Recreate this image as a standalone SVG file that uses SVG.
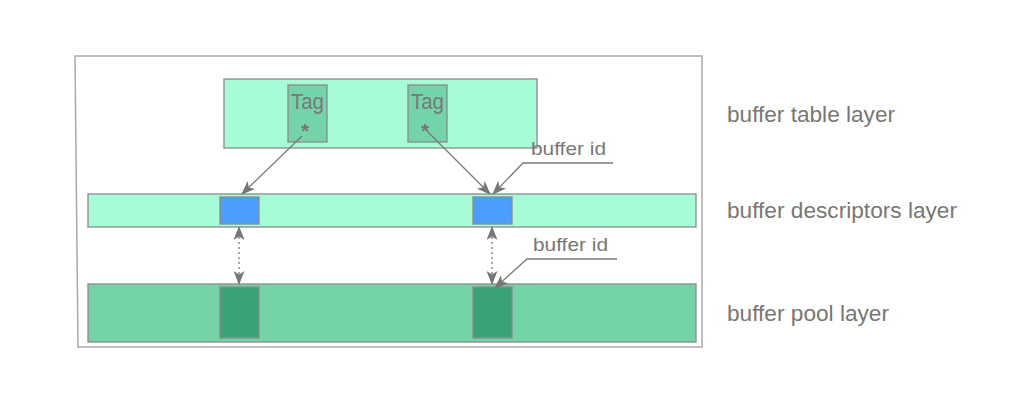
<svg xmlns="http://www.w3.org/2000/svg" width="1024" height="412" viewBox="0 0 1024 412">
<defs>
<style>
.lbl{font-family:"Liberation Sans",Arial,sans-serif;fill:#777}
.edge{stroke:#7a7a7a;stroke-width:1.3;fill:none}
.box{stroke:#8a8a8a;stroke-width:1.3}
</style>
<marker id="ah" viewBox="0 0 14 11" refX="13" refY="5.5" markerWidth="14" markerHeight="11" markerUnits="userSpaceOnUse" orient="auto-start-reverse">
<path d="M0,0 L14,5.5 L0,11 L3.5,5.5 Z" fill="#777"/>
</marker>
</defs>
<rect width="1024" height="412" fill="#fff"/>
<g id="frame">
<polygon points="75,56 702,56 702,347 78,347" fill="#fff" stroke="#aaa" stroke-width="1.5"/>
</g>
<g id="table-layer">
<rect class="box" x="224" y="79" width="313" height="69" fill="#a6fcd6"/>
</g>
<g id="tag1">
<rect class="box" x="288" y="85" width="39" height="57" fill="#74d3a8"/>
<text class="lbl" x="307.5" y="109" font-size="22" text-anchor="middle" textLength="33" lengthAdjust="spacingAndGlyphs">Tag</text>
<text class="lbl" x="305" y="138" font-size="21" font-weight="bold" text-anchor="middle">*</text>
</g>
<g id="tag2">
<rect class="box" x="408" y="85" width="39" height="57" fill="#74d3a8"/>
<text class="lbl" x="427.5" y="109" font-size="22" text-anchor="middle" textLength="33" lengthAdjust="spacingAndGlyphs">Tag</text>
<text class="lbl" x="425" y="138" font-size="21" font-weight="bold" text-anchor="middle">*</text>
</g>
<g id="desc-layer">
<rect class="box" x="88" y="194" width="608" height="33" fill="#a6fcd6"/>
</g>
<g id="desc1">
<rect class="box" x="220" y="197" width="39" height="27" fill="#4d9dfc"/>
</g>
<g id="desc2">
<rect class="box" x="473" y="197" width="39" height="27" fill="#4d9dfc"/>
</g>
<g id="pool-layer">
<rect class="box" x="88" y="284" width="608" height="58" fill="#75d3a8"/>
</g>
<g id="pool1">
<rect class="box" x="220" y="287" width="39" height="51" fill="#3ba276"/>
</g>
<g id="pool2">
<rect class="box" x="473" y="287" width="39" height="51" fill="#3ba276"/>
</g>
<g id="connectors">
<line class="edge" x1="302" y1="136" x2="242" y2="194" marker-end="url(#ah)"/>
<line class="edge" x1="426" y1="130" x2="490" y2="194" marker-end="url(#ah)"/>
<polyline class="edge" points="613,163 523,163 493,194" marker-end="url(#ah)"/>
<line class="edge" x1="239" y1="227" x2="239" y2="284" stroke-dasharray="2,3" marker-start="url(#ah)" marker-end="url(#ah)"/>
<line class="edge" x1="492" y1="227" x2="492" y2="284" stroke-dasharray="2,3" marker-start="url(#ah)" marker-end="url(#ah)"/>
<polyline class="edge" points="617,259 527,259 495,288" marker-end="url(#ah)"/>
</g>
<g id="labels">
<text class="lbl" x="531" y="155" font-size="19" textLength="75" lengthAdjust="spacingAndGlyphs">buffer id</text>
<text class="lbl" x="533" y="251" font-size="19" textLength="75" lengthAdjust="spacingAndGlyphs">buffer id</text>
<text class="lbl" x="727" y="122" font-size="22" textLength="168" lengthAdjust="spacingAndGlyphs">buffer table layer</text>
<text class="lbl" x="727" y="218" font-size="22" textLength="230" lengthAdjust="spacingAndGlyphs">buffer descriptors layer</text>
<text class="lbl" x="727" y="321" font-size="22" textLength="162" lengthAdjust="spacingAndGlyphs">buffer pool layer</text>
</g>
</svg>
